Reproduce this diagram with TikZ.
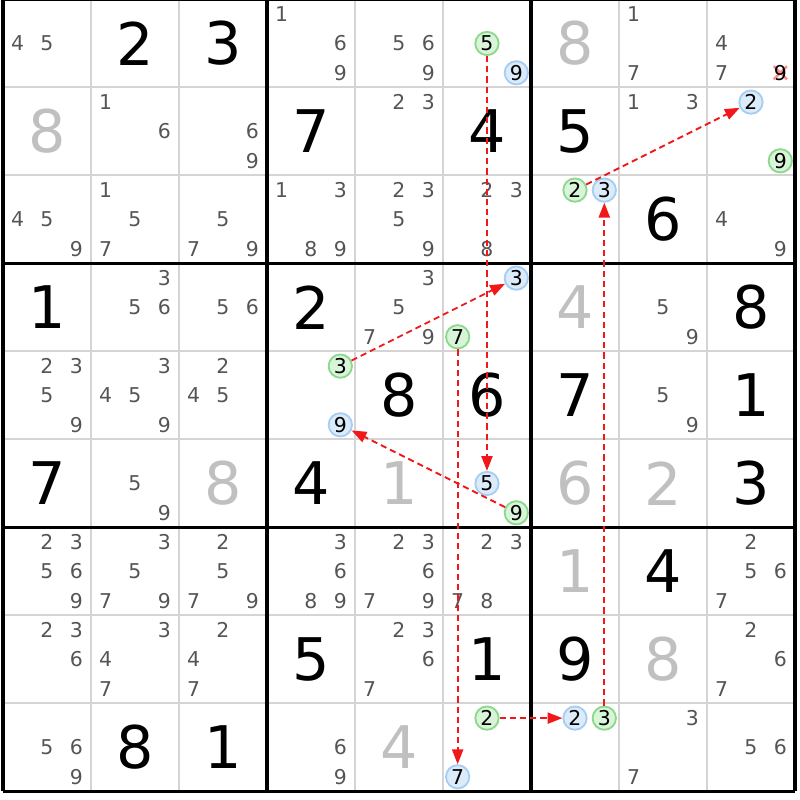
\documentclass[tikz,border=0pt]{standalone}
\usepackage{fontspec}
\setmainfont{DejaVu Sans}
\usetikzlibrary{arrows.meta,backgrounds}

\definecolor{candgray}{HTML}{555555}
\definecolor{solvedgray}{HTML}{C0C0C0}
\definecolor{gridgray}{HTML}{D4D4D4}
\definecolor{greenline}{HTML}{8ED88E}
\definecolor{greenfill}{HTML}{D9F5D9}
\definecolor{blueline}{HTML}{A6CEF5}
\definecolor{bluefill}{HTML}{DCEBFA}
\definecolor{linkred}{HTML}{F01818}

\newcommand\bigfont{\fontsize{19}{20}\selectfont}
\newcommand\smallfont{\fontsize{6.6}{7}\selectfont}

% one candidate: [style]{row}{col}{digit}
\newcommand\cand[4][cand]{%
  \node[#1] (r#2c#3n#4) at ({#3-1+(2*mod(#4-1,3)+1)/6},{10-#2-(2*div(#4-1,3)+1)/6}) {#4};}
% all plain candidates of a cell
\newcommand\cands[3]{\foreach \d in {#3} {\cand{#1}{#2}{\d}}}
% a placed digit
\newcommand\cellval[4][given]{\node[#1] (r#2c#3) at (#3-0.5,9.5-#2) {#4};}

\begin{document}
\begin{tikzpicture}[
    cand/.style={text=candgray,font=\smallfont,inner sep=0pt},
    given/.style={text=black,font=\bigfont,inner sep=0pt},
    solved/.style={text=solvedgray,font=\bigfont,inner sep=0pt},
    linkon/.style={circle,draw=greenline,fill=greenfill,line width=0.6pt,
      text=black,font=\smallfont,minimum size=0.265cm,inner sep=0pt},
    linkoff/.style={linkon,draw=blueline,fill=bluefill},
    elim/.style={cand,text=black}]

      \useasboundingbox (-0.034,-0.097) rectangle (9.057,8.994);

      % grid
      \draw[gridgray,line width=0.65pt] (0,0) grid (9,9);
      \draw[black,line width=1pt,step=3] (0,0) grid (9,9);

      % placed digits
      \cellval{1}{2}{2}  \cellval{1}{3}{3}  \cellval[solved]{1}{7}{8}
      \cellval[solved]{2}{1}{8}  \cellval{2}{4}{7}  \cellval{2}{6}{4}  \cellval{2}{7}{5}
      \cellval{3}{8}{6}
      \cellval{4}{1}{1}  \cellval{4}{4}{2}  \cellval[solved]{4}{7}{4}  \cellval{4}{9}{8}
      \cellval{5}{5}{8}  \cellval{5}{6}{6}  \cellval{5}{7}{7}  \cellval{5}{9}{1}
      \cellval{6}{1}{7}  \cellval[solved]{6}{3}{8}  \cellval{6}{4}{4}  \cellval[solved]{6}{5}{1}
      \cellval[solved]{6}{7}{6}  \cellval[solved]{6}{8}{2}  \cellval{6}{9}{3}
      \cellval[solved]{7}{7}{1}  \cellval{7}{8}{4}
      \cellval{8}{4}{5}  \cellval{8}{6}{1}  \cellval{8}{7}{9}  \cellval[solved]{8}{8}{8}
      \cellval{9}{2}{8}  \cellval{9}{3}{1}  \cellval[solved]{9}{5}{4}

      % candidates
      \cands{1}{1}{4,5}  \cands{1}{4}{1,6,9}  \cands{1}{5}{5,6,9}
      \cands{1}{8}{1,7}  \cands{1}{9}{4,7}
      \cands{2}{2}{1,6}  \cands{2}{3}{6,9}  \cands{2}{5}{2,3}  \cands{2}{8}{1,3}
      \cands{3}{1}{4,5,9}  \cands{3}{2}{1,5,7}  \cands{3}{3}{5,7,9}
      \cands{3}{4}{1,3,8,9}  \cands{3}{5}{2,3,5,9}  \cands{3}{6}{2,3,8}  \cands{3}{9}{4,9}
      \cands{4}{2}{3,5,6}  \cands{4}{3}{5,6}  \cands{4}{5}{3,5,7,9}  \cands{4}{8}{5,9}
      \cands{5}{1}{2,3,5,9}  \cands{5}{2}{3,4,5,9}  \cands{5}{3}{2,4,5}  \cands{5}{8}{5,9}
      \cands{6}{2}{5,9}
      \cands{7}{1}{2,3,5,6,9}  \cands{7}{2}{3,5,7,9}  \cands{7}{3}{2,5,7,9}
      \cands{7}{4}{3,6,8,9}  \cands{7}{5}{2,3,6,7,9}  \cands{7}{6}{2,3,7,8}  \cands{7}{9}{2,5,6,7}
      \cands{8}{1}{2,3,6}  \cands{8}{2}{3,4,7}  \cands{8}{3}{2,4,7}
      \cands{8}{5}{2,3,6,7}  \cands{8}{9}{2,6,7}
      \cands{9}{1}{5,6,9}  \cands{9}{4}{6,9}  \cands{9}{8}{3,7}  \cands{9}{9}{5,6}

      % chain candidates
      \cand[linkon]{1}{6}{5}   \cand[linkoff]{1}{6}{9}
      \cand[linkoff]{2}{9}{2}  \cand[linkon]{2}{9}{9}
      \cand[linkon]{3}{7}{2}   \cand[linkoff]{3}{7}{3}
      \cand[linkoff]{4}{6}{3}  \cand[linkon]{4}{6}{7}
      \cand[linkon]{5}{4}{3}   \cand[linkoff]{5}{4}{9}
      \cand[linkoff]{6}{6}{5}  \cand[linkon]{6}{6}{9}
      \cand[linkon]{9}{6}{2}   \cand[linkoff]{9}{6}{7}
      \cand[linkoff]{9}{7}{2}  \cand[linkon]{9}{7}{3}

      % eliminated candidate
      \cand[elim]{1}{9}{9}
      \begin{scope}[on background layer]
        \draw[red!45,line width=0.8pt] (r1c9n9.center) ++(-0.075,-0.075) -- ++(0.15,0.15)
                                       (r1c9n9.center) ++(-0.075,0.075) -- ++(0.15,-0.15);
      \end{scope}

      % links
      \begin{scope}[every edge/.style={draw,linkred,line width=0.6pt,
          dash pattern=on 2pt off 1.3pt,-{Triangle[length=4.8pt,width=3.6pt]}}]
        \path (r1c6n5) edge (r6c6n5);
        \path (r6c6n9) edge (r5c4n9);
        \path (r5c4n3) edge (r4c6n3);
        \path (r4c6n7) edge (r9c6n7);
        \path (r9c6n2) edge (r9c7n2);
        \path (r9c7n3) edge (r3c7n3);
        \path (r3c7n2) edge (r2c9n2);
      \end{scope}

    \end{tikzpicture}
\end{document}
